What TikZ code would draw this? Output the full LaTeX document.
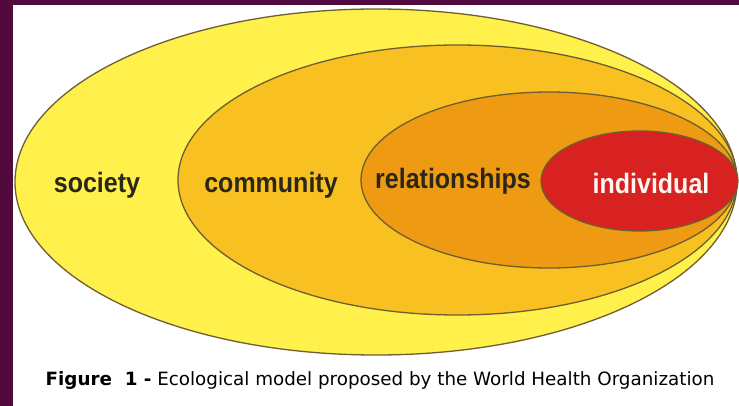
\documentclass[tikz,border=0pt]{standalone}
\usepackage{fontspec}
\setmainfont{Liberation Sans}
\newfontfamily\capfont{DejaVu Sans}
\usepackage{tikz}
\usetikzlibrary{positioning}

\definecolor{frame}{HTML}{520A3E}
\definecolor{society}{HTML}{FFF04C}
\definecolor{community}{HTML}{F8C020}
\definecolor{relation}{HTML}{EE9A12}
\definecolor{individ}{HTML}{D82222}
\definecolor{rim}{HTML}{6E5E30}
\definecolor{ink}{HTML}{2A2618}

\tikzset{
    ring/.style={draw=rim, line width=1.3pt},
    label/.style={text=ink, font=\bfseries\fontsize{25}{25}\selectfont}
}

\begin{document}
\begin{tikzpicture}[x=1pt, y=-1pt, every node/.style={inner sep=0pt}]
    \useasboundingbox (0,0) rectangle (739,406);
    \fill[white] (0,0) rectangle (739,406);
    \fill[frame] (0,0) rectangle (739,5);
    \fill[frame] (0,0) rectangle (13,406);

    % nested ellipses
    \path[ring, fill=society] (376,182) ellipse [x radius=361, y radius=173];
    \path[ring, fill=community] (457.5,180) ellipse [x radius=279.5, y radius=135];
    \path[ring, fill=relation] (549,180) ellipse [x radius=188, y radius=88];
    \path[ring, fill=individ] (639.5,181) ellipse [x radius=98.5, y radius=50];

    \node[label] (soc) at (97,185) {\scalebox{1}[1.12]{society}};
    \node[label] (com) at (271,185) {\scalebox{1}[1.12]{community}};
    \node[label] (rel) at (453,181) {\scalebox{1}[1.12]{relationships}};
    \node[label, text=white!94!orange] (ind) at (651,183) {\scalebox{1}[1.12]{individual}};

    \node[text=black, font=\capfont\fontsize{18.3}{18.3}\selectfont] (cap) at (380,381) {\textbf{Figure\ \ 1 -} Ecological model proposed by the World Health Organization};
\end{tikzpicture}
\end{document}
